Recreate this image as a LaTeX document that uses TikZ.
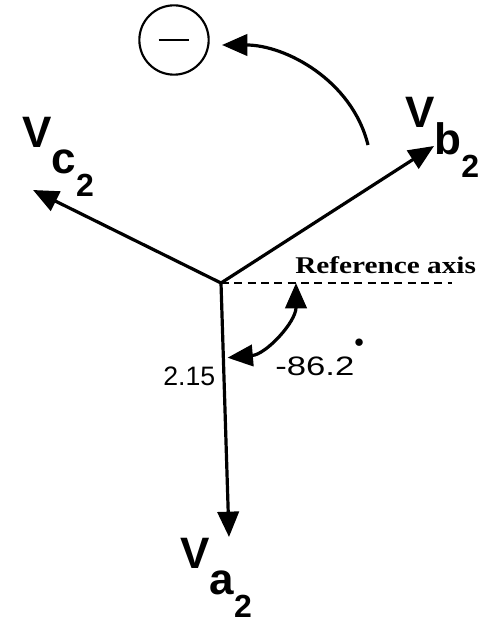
\documentclass[tikz,border=0pt]{standalone}
\usepackage{fontspec}
\setmainfont{Liberation Sans}
\newfontfamily\axisfont{Liberation Serif}
\usetikzlibrary{calc, arrows.meta}

\tikzset{
  bigtip/.tip={Triangle[length=19pt, width=16pt]},
  phasor/.style={line width=2.4pt, -bigtip},
  phlabel/.style={anchor=base west, inner sep=0pt, font=\bfseries\fontsize{33}{33}\selectfont},
  numlabel/.style={anchor=base west, inner sep=0pt, font=\fontsize{20}{20}\selectfont},
}
\newcommand{\phname}[1]{V\raisebox{-20pt}{#1}\raisebox{-37pt}{\fontsize{24}{24}\selectfont 2}}

\begin{document}
\begin{tikzpicture}[x=0.75pt, y=-0.75pt]
  \useasboundingbox (0,0) rectangle (490,624);
  % phasors
  \coordinate (O) at (221,283);
  \coordinate (Va) at (229,537);
  \coordinate (Vb) at (434,146);
  \coordinate (Vc) at (33,190);
  \draw[phasor] (O) -- (Va);
  \draw[phasor] (O) -- (Vb);
  \draw[phasor] (O) -- (Vc);
  \node[phlabel] (la) at (180,568) {\phname{a}};
  \node[phlabel] (lb) at (405,128) {\phname{b}};
  \node[phlabel] (lc) at (22,147) {\phname{c}};
  % reference axis and angle
  \coordinate (R) at (452,283);
  \draw[line width=1.8pt, dash pattern=on 6pt off 4pt] (O) -- (R);
  \node[anchor=base west, inner sep=0pt, font=\axisfont\bfseries\fontsize{18}{18}\selectfont] (axis) at (295,273) {\scalebox{1.22}[1]{Reference axis}};
  \draw[line width=2.4pt, bigtip-bigtip] ($(O)+(75,0)$) arc[start angle=0, end angle=-85, radius=56.25pt];
  \node[numlabel] (ang) at (275,375) {\scalebox{1.3}[1]{-86.2}\raisebox{21pt}{\fontsize{14}{14}\selectfont$\bullet$}};
  \node[numlabel] (mag) at (163,385) {2.15};
  % sequence
  \node[draw, circle, line width=1.6pt, minimum size=52pt, inner sep=0pt] (neg) at (174,40) {\rule[-1.1pt]{23pt}{2.2pt}};
  \coordinate (turn) at (368,145);
  \coordinate (turnend) at (222,45);
  \draw[phasor] (turn) .. controls (352,80) and (285,45) .. (turnend);
\end{tikzpicture}
\end{document}
